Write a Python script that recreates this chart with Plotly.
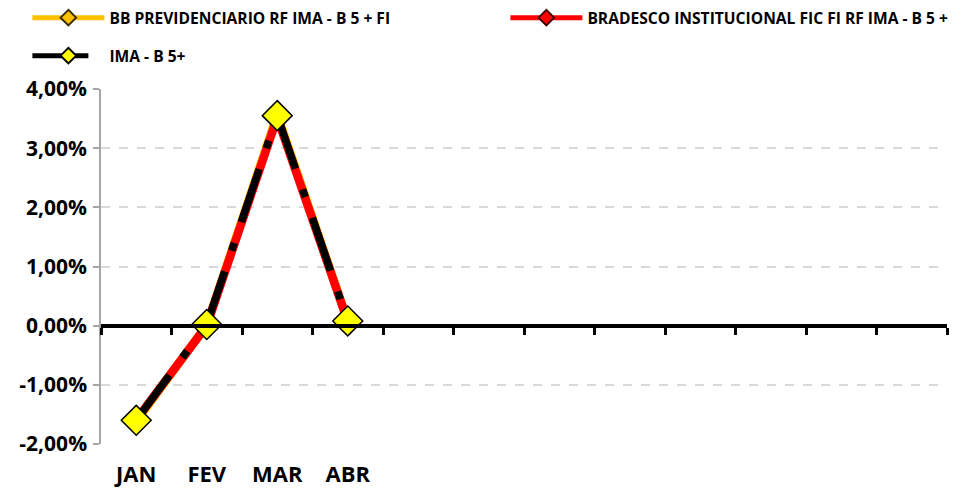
import plotly.graph_objects as go

months = ["JAN", "FEV", "MAR", "ABR"]
n_slots = 12
bb_prev = [-1.62, 0.01, 3.57, 0.08]
bradesco = [-1.59, 0.00, 3.52, 0.07]
ima_b5 = [-1.60, 0.02, 3.55, 0.08]
yticks = [-2, -1, 0, 1, 2, 3, 4]
yticktext = [f"{v:.2f}".replace(".", ",") + "%" for v in yticks]

FONT = "Open Sans"
x = list(range(len(months)))
legfont = dict(family=FONT, size=15.6, color="#000000", weight="bold")


def per_segment(xs, ys):
    """Split a polyline into separate subpaths so the dash pattern restarts at each point."""
    sx, sy = [], []
    for i in range(len(xs) - 1):
        sx += [xs[i], xs[i + 1], None]
        sy += [ys[i], ys[i + 1], None]
    return sx, sy


ima_x, ima_y = per_segment(x, ima_b5)

fig = go.Figure()
fig.add_trace(go.Scatter(
    x=x, y=bb_prev, name="BB PREVIDENCIARIO RF IMA - B 5 + FI", mode="lines+markers",
    line=dict(color="#FFC000", width=8.5),
    marker=dict(symbol="diamond", size=9, color="#FFC000", line=dict(color="#3a2a00", width=1.5)),
    legend="legend"))
fig.add_trace(go.Scatter(
    x=x, y=bradesco, name="BRADESCO INSTITUCIONAL FIC FI RF IMA - B 5 +", mode="lines+markers",
    line=dict(color="#FF0000", width=8.5),
    marker=dict(symbol="diamond", size=9, color="#FF0000", line=dict(color="#400000", width=1.5)),
    legend="legend3"))
fig.add_trace(go.Scatter(
    x=ima_x, y=ima_y, name="IMA - B 5+", mode="lines+markers", connectgaps=False,
    line=dict(color="#000000", width=7.5, dash="56px,22px,8px,22px"),
    marker=dict(symbol="diamond", size=9, color="#FFFF00", line=dict(color="#000000", width=1)),
    legend="legend2", legendgroup="ima"))
fig.add_trace(go.Scatter(
    x=x, y=ima_b5, name="IMA - B 5+", mode="markers", showlegend=False, legendgroup="ima",
    marker=dict(symbol="diamond", size=23, color="#FFFF00", line=dict(color="#000000", width=1.5))))

# zero line axis with category boundary ticks
fig.add_trace(go.Scatter(x=[-0.5, n_slots - 0.5], y=[0, 0], xaxis="x2", mode="lines",
                         line=dict(width=0), showlegend=False, hoverinfo="skip"))

fig.update_layout(
    width=949, height=481,
    margin=dict(l=93, r=10, t=81, b=45, autoexpand=False),
    paper_bgcolor="white", plot_bgcolor="white",
    font=dict(family=FONT, color="#000000"),
    showlegend=True,
    legend=dict(orientation="h", x=-0.087, y=1.2, xanchor="left", yanchor="middle",
                itemwidth=72, itemsizing="constant", font=legfont, bgcolor="rgba(0,0,0,0)"),
    legend3=dict(orientation="h", x=0.478, y=1.2, xanchor="left", yanchor="middle",
                 itemwidth=72, itemsizing="constant", font=legfont, bgcolor="rgba(0,0,0,0)"),
    legend2=dict(orientation="h", x=-0.087, y=1.093, xanchor="left", yanchor="middle",
                 itemwidth=72, itemsizing="constant", font=legfont, bgcolor="rgba(0,0,0,0)"),
    xaxis=dict(range=[-0.5, n_slots - 0.5], tickmode="array", tickvals=x, ticktext=months,
               showgrid=False, zeroline=False, showline=False, ticks="",
               ticklabelstandoff=15,
               tickfont=dict(family=FONT, size=22, color="#000000", weight="bold")),
    xaxis2=dict(range=[-0.5, n_slots - 0.5], overlaying="x", anchor="free", position=1/3,
                tickmode="linear", tick0=-0.5, dtick=1, showticklabels=False,
                ticks="outside", ticklen=7, tickwidth=3, tickcolor="#000000",
                showline=True, linecolor="#000000", linewidth=4, showgrid=False, zeroline=False),
    yaxis=dict(range=[-2, 4], tickmode="array", tickvals=yticks, ticktext=yticktext,
               showgrid=True, gridcolor="#D9D9D9", gridwidth=1.5, griddash="dash",
               zeroline=False, showline=True, linecolor="#A6A6A6", linewidth=1.5,
               ticks="outside", ticklen=6, tickcolor="#A6A6A6", tickwidth=1.5,
               ticklabelstandoff=2,
               tickfont=dict(family=FONT, size=21, color="#000000", weight="bold")),
)

fig.write_html("out.html")
